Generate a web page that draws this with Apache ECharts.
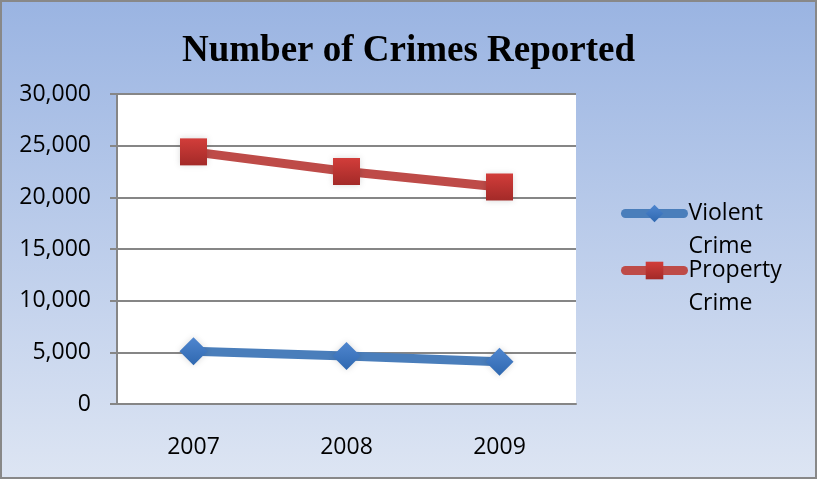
<!DOCTYPE html>
<html>
<head>
<meta charset="utf-8">
<script src="https://cdn.jsdelivr.net/npm/echarts@6/dist/echarts.min.js"></script>
<style>
  html, body { margin: 0; padding: 0; }
  #main { width: 817px; height: 479px; }
</style>
</head>
<body>
<div id="main"></div>
<script>
    var years = ['2007', '2008', '2009'];
    var violentCrime = [5100, 4650, 4100];
    var propertyCrime = [24400, 22500, 21000];

    var myChart = echarts.init(document.getElementById('main'));
    var option = {
        backgroundColor: new echarts.graphic.LinearGradient(0, 0, 0, 1, [
            { offset: 0, color: '#9ab4e2' },
            { offset: 1, color: '#dde5f3' }
        ]),
        title: {
            text: 'Number of Crimes Reported',
            left: 'center',
            top: 28,
            textStyle: {
                fontFamily: 'Liberation Serif',
                fontWeight: 'bold',
                fontSize: 37,
                color: '#000'
            }
        },
        graphic: [{
            type: 'rect',
            shape: { x: 1, y: 1, width: 815, height: 477 },
            style: { fill: 'none', stroke: '#888', lineWidth: 2 },
            silent: true
        }],
        legend: {
            orient: 'vertical',
            left: 616,
            top: 159,
            itemWidth: 58,
            itemHeight: 22,
            itemGap: -42,
            data: ['Violent Crime', 'Property Crime'],
            lineStyle: { width: 9, cap: 'round' },
            formatter: function (name) {
                // blank first line keeps the icon level with the first word
                return '\n' + name.replace(' ', '\n');
            },
            textStyle: {
                fontFamily: 'Open Sans',
                fontSize: 23,
                color: '#000',
                lineHeight: 33
            }
        },
        grid: {
            left: 117,
            right: 241,
            top: 94,
            bottom: 75,
            show: true,
            backgroundColor: '#fff',
            borderWidth: 0
        },
        xAxis: {
            type: 'category',
            data: years,
            boundaryGap: true,
            axisLine: { lineStyle: { color: '#868686', width: 2 } },
            axisTick: { length: 7, lineStyle: { color: '#868686', width: 2 } },
            axisLabel: {
                fontFamily: 'Open Sans',
                fontSize: 23,
                color: '#000',
                margin: 32
            }
        },
        yAxis: {
            type: 'value',
            min: 0,
            max: 30000,
            interval: 5000,
            axisLine: { show: true, lineStyle: { color: '#868686', width: 2 } },
            axisTick: { show: true, length: 7, lineStyle: { color: '#868686', width: 2 } },
            splitLine: { lineStyle: { color: '#868686', width: 2 } },
            axisLabel: {
                fontFamily: 'Open Sans',
                fontSize: 23,
                color: '#000',
                margin: 26,
                formatter: function (v) {
                    return v.toLocaleString('en-US');
                }
            }
        },
        series: [{
            name: 'Violent Crime',
            type: 'line',
            data: violentCrime,
            symbol: 'diamond',
            symbolSize: 28,
            lineStyle: { color: '#4a7ebb', width: 9 },
            itemStyle: {
                color: new echarts.graphic.LinearGradient(0, 0, 0, 1, [
                    { offset: 0, color: '#4f86cf' },
                    { offset: 1, color: '#2f68b0' }
                ]),
                shadowColor: 'rgba(0,0,0,0.15)',
                shadowBlur: 6
            }
        }, {
            name: 'Property Crime',
            type: 'line',
            data: propertyCrime,
            symbol: 'rect',
            symbolSize: 27,
            lineStyle: { color: '#be4b48', width: 9 },
            itemStyle: {
                color: new echarts.graphic.LinearGradient(0, 0, 0, 1, [
                    { offset: 0, color: '#d23d3a' },
                    { offset: 1, color: '#a32a28' }
                ]),
                shadowColor: 'rgba(0,0,0,0.15)',
                shadowBlur: 6
            }
        }]
    };
    myChart.setOption(option);
</script>
</body>
</html>
